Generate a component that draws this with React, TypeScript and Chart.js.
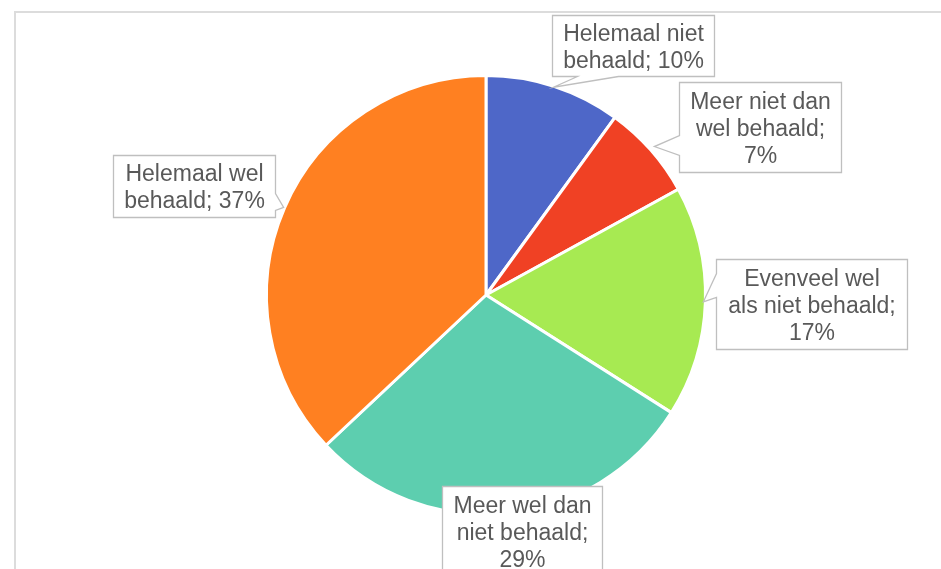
import React, { useEffect, useRef } from "react";
import { Chart, registerables } from "chart.js";

Chart.register(...registerables);

const categories = [
  "Helemaal niet behaald",
  "Meer niet dan wel behaald",
  "Evenveel wel als niet behaald",
  "Meer wel dan niet behaald",
  "Helemaal wel behaald",
];
const values = [10, 7, 17, 29, 37];
const sliceColors = ["#4E67C8", "#F04124", "#A7EA52", "#5DCEAF", "#FF8021"];
// wrapped label lines (text content); the percentage is appended from values
const labelLines = [
  ["Helemaal niet", "behaald;"],
  ["Meer niet dan", "wel behaald;", ""],
  ["Evenveel wel", "als niet behaald;", ""],
  ["Meer wel dan", "niet behaald;", ""],
  ["Helemaal wel", "behaald;"],
];

// callout layout (box centre offset from pie centre, size, pointer)
const calloutLayout = [
  { dx: 147, dy: -249.5, w: 162, h: 61, side: "bottom", b1: 25, b2: 66, tipOut: -1 },
  { dx: 274, dy: -168, w: 162, h: 90, side: "left", b1: 53, b2: 73, tipOut: 5 },
  { dx: 325.5, dy: 9, w: 191, h: 90, side: "left", b1: 14, b2: 38, tipOut: -2 },
  { dx: 36, dy: 236.5, w: 160, h: 91, side: "none", b1: 0, b2: 0, tipOut: 0 },
  { dx: -292, dy: -109, w: 162, h: 62, side: "right", b1: 38, b2: 55, tipOut: 1 },
];

const calloutPlugin = {
  id: "callouts",
  afterDatasetsDraw(chart: any) {
    const ctx = chart.ctx as CanvasRenderingContext2D;
    const meta = chart.getDatasetMeta(0);
    meta.data.forEach((arc: any, i: number) => {
      const p = arc.getProps(["x", "y", "startAngle", "endAngle", "outerRadius"], true);
      const lay = calloutLayout[i];
      const mid = (p.startAngle + p.endAngle) / 2;
      const tr = p.outerRadius + lay.tipOut;
      const tx = p.x + Math.cos(mid) * tr;
      const ty = p.y + Math.sin(mid) * tr;
      const bx = Math.round(p.x + lay.dx - lay.w / 2) + 0.5;
      const by = Math.round(p.y + lay.dy - lay.h / 2) + 0.5;
      const bw = lay.w;
      const bh = lay.h;
      ctx.save();
      ctx.beginPath();
      ctx.moveTo(bx, by);
      ctx.lineTo(bx + bw, by);
      if (lay.side === "right") {
        ctx.lineTo(bx + bw, by + lay.b1);
        ctx.lineTo(tx, ty);
        ctx.lineTo(bx + bw, by + lay.b2);
      }
      ctx.lineTo(bx + bw, by + bh);
      if (lay.side === "bottom") {
        ctx.lineTo(bx + lay.b2, by + bh);
        ctx.lineTo(tx, ty);
        ctx.lineTo(bx + lay.b1, by + bh);
      }
      ctx.lineTo(bx, by + bh);
      if (lay.side === "left") {
        ctx.lineTo(bx, by + lay.b2);
        ctx.lineTo(tx, ty);
        ctx.lineTo(bx, by + lay.b1);
      }
      ctx.closePath();
      ctx.fillStyle = "#FFFFFF";
      ctx.fill();
      ctx.lineWidth = 1.3;
      ctx.strokeStyle = "#BFBFBF";
      ctx.stroke();

      const lines = labelLines[i].slice();
      const pct = values[i] + "%";
      const last = lines.length - 1;
      lines[last] = lines[last] === "" ? pct : lines[last] + " " + pct;
      ctx.font = "23px 'Liberation Sans', Arial, sans-serif";
      ctx.fillStyle = "#595959";
      ctx.textAlign = "center";
      ctx.textBaseline = "middle";
      const lh = 27;
      const cx = bx + bw / 2;
      const cy = by + bh / 2;
      lines.forEach((t, k) => {
        ctx.fillText(t, cx, cy + (k - (lines.length - 1) / 2) * lh + 2);
      });
      ctx.restore();
    });
  },
};

export default function App() {
  const ref = useRef<HTMLCanvasElement | null>(null);
  useEffect(() => {
    if (!ref.current) return;
    const chart = new Chart(ref.current, {
      type: "pie",
      data: {
        labels: categories,
        datasets: [
          {
            data: values,
            backgroundColor: sliceColors,
            borderColor: "#FFFFFF",
            borderWidth: 3,
          },
        ],
      },
      options: {
        animation: false,
        responsive: false,
        maintainAspectRatio: false,
        layout: { padding: { left: 265, right: 234, top: 74, bottom: 53 } },
        plugins: {
          legend: { display: false },
          tooltip: { enabled: false },
        },
      },
      plugins: [calloutPlugin],
    });
    return () => chart.destroy();
  }, []);
  return (
    <div
      style={{
        position: "fixed",
        left: 0,
        top: 0,
        width: 941,
        height: 569,
        overflow: "hidden",
        background: "#FFFFFF",
      }}
    >
      <div
        style={{
          position: "absolute",
          left: 14,
          top: 11,
          width: 1000,
          height: 700,
          border: "2px solid #DCDCDC",
        }}
      />
      <canvas
        ref={ref}
        width={941}
        height={569}
        style={{ position: "absolute", left: 0, top: 0, width: 941, height: 569 }}
      />
    </div>
  );
}
